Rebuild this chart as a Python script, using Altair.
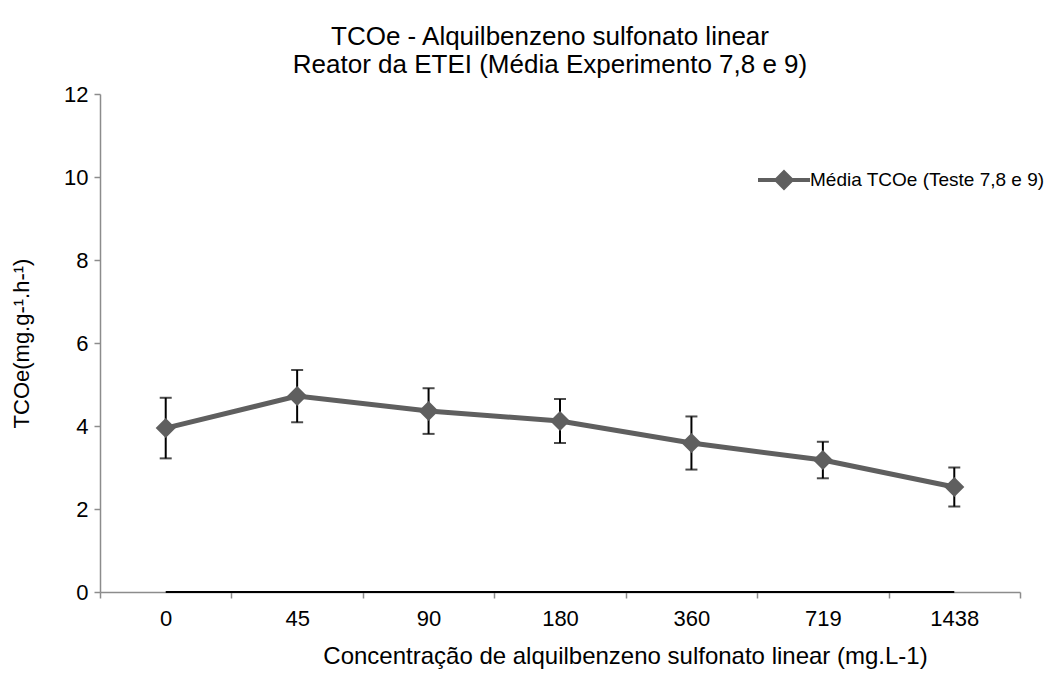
import altair as alt
import pandas as pd

categories = ["0", "45", "90", "180", "360", "719", "1438"]
mean_vals = [3.95, 4.72, 4.36, 4.12, 3.59, 3.18, 2.53]
err_vals = [0.73, 0.63, 0.55, 0.53, 0.64, 0.44, 0.47]
series_name = "Média TCOe (Teste 7,8 e 9)"

df = pd.DataFrame({
    "conc": categories,
    "tcoe": mean_vals,
    "lo": [m - e for m, e in zip(mean_vals, err_vals)],
    "hi": [m + e for m, e in zip(mean_vals, err_vals)],
    "series": [series_name] * len(categories),
})

FONT = "Liberation Sans"
LINE_COLOR = "#5f5f5f"

x_enc = alt.X("conc:N", sort=categories,
              title="Concentração de alquilbenzeno sulfonato linear (mg.L-1)",
              scale=alt.Scale(paddingInner=0, paddingOuter=0),
              axis=alt.Axis(labelAngle=0, tickBand="extent", titleX=525,
                            titleFontSize=24, labelFontSize=22))
y_scale = alt.Scale(domain=[0, 12])
y_axis = alt.Axis(values=[0, 2, 4, 6, 8, 10, 12], grid=False,
                  title="TCOe(mg.g-¹.h-¹)", titleFontSize=22, labelFontSize=22)

base = alt.Chart(df)

zero_line = base.transform_filter(
    alt.FieldOneOfPredicate(field="conc", oneOf=[categories[0], categories[-1]])
).mark_line(color="black", strokeWidth=2).encode(
    x=x_enc,
    y=alt.Y("zero:Q", scale=y_scale, axis=y_axis),
).transform_calculate(zero="0")

err_rule = base.mark_rule(color="black", strokeWidth=2).encode(
    x=x_enc, y=alt.Y("lo:Q", scale=y_scale, axis=y_axis), y2="hi:Q")
cap_lo = base.mark_tick(color="black", thickness=2, size=12).encode(
    x=x_enc, y=alt.Y("lo:Q", scale=y_scale, axis=y_axis))
cap_hi = base.mark_tick(color="black", thickness=2, size=12).encode(
    x=x_enc, y=alt.Y("hi:Q", scale=y_scale, axis=y_axis))

line = base.mark_line(strokeWidth=5).encode(
    x=x_enc,
    y=alt.Y("tcoe:Q", scale=y_scale, axis=y_axis),
    color=alt.Color("series:N", scale=alt.Scale(range=[LINE_COLOR]),
                    legend=alt.Legend(
                        title=None, orient="none", legendX=662, legendY=64,
                        symbolType="M-1.3,0H1.3M0,-0.38L0.38,0L0,0.38L-0.38,0Z",
                        symbolSize=1600, symbolStrokeWidth=4,
                        symbolFillColor=LINE_COLOR, symbolStrokeColor=LINE_COLOR,
                        labelFontSize=19, labelFont=FONT, labelColor="black",
                        labelOffset=4, labelLimit=0, padding=0)),
)
points = base.mark_point(shape="diamond", filled=True, size=400, opacity=1,
                         color=LINE_COLOR).encode(
    x=x_enc, y=alt.Y("tcoe:Q", scale=y_scale, axis=y_axis))

chart = alt.layer(zero_line, err_rule, cap_lo, cap_hi, line, points).properties(
    width=920, height=498,
    autosize=alt.AutoSizeParams(type="none"),
    padding={"left": 92, "top": 86, "right": 34, "bottom": 77},
    title=alt.TitleParams(
        text=["TCOe - Alquilbenzeno sulfonato linear",
              "Reator da ETEI (Média Experimento 7,8 e 9)"],
        fontSize=26, font=FONT, fontWeight="normal", color="black",
        lineHeight=28, offset=5, dx=-10, anchor="middle"),
).configure_view(stroke=None).configure_axis(
    labelFont=FONT, labelColor="black",
    titleFont=FONT, titleFontWeight="normal", titleColor="black",
    domainColor="#8c8c8c", domainWidth=1.5, tickColor="#8c8c8c", tickWidth=1.5,
    tickSize=6,
).configure_axisX(labelPadding=10, titlePadding=15).configure_axisY(
    labelPadding=6, titlePadding=30)

chart.save("out.html", embed_options={"renderer": "svg", "actions": False})
